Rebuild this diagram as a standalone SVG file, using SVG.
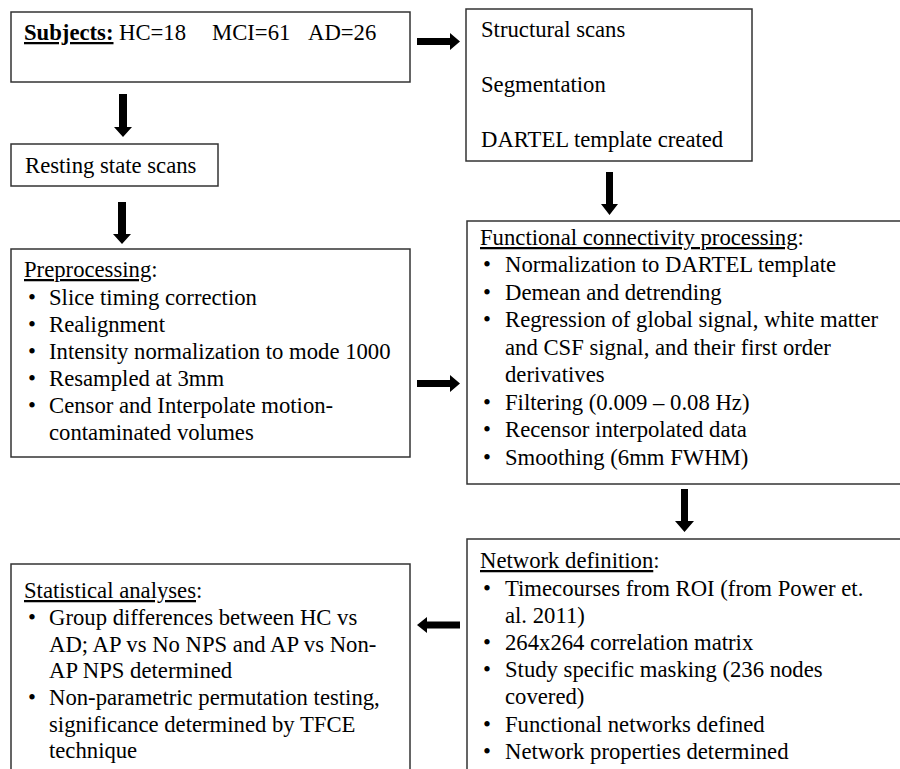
<svg xmlns="http://www.w3.org/2000/svg" width="900" height="769" viewBox="0 0 900 769" font-family="'Liberation Serif', 'Times New Roman', Times, serif">
<style>
.box{fill:#fff;stroke:#333;stroke-width:1.5}
text{font-family:'Liberation Serif','Times New Roman',Times,serif;font-size:22.7px;fill:#000}
.u{text-decoration:underline}
.arr{fill:#000}
</style>
<rect width="900" height="769" fill="#fff"/>
<g id="subjects">
<rect class="box" x="11" y="12" width="399" height="70"/>
<text y="40"><tspan x="24" class="u" font-weight="bold">Subjects:</tspan><tspan x="119">HC=18</tspan><tspan x="212">MCI=61</tspan><tspan x="308">AD=26</tspan></text>
</g>
<g id="structural">
<rect class="box" x="466" y="9" width="286" height="152"/>
<text x="481" y="37">Structural scans</text>
<text x="481" y="92">Segmentation</text>
<text x="481" y="147">DARTEL template created</text>
</g>
<g id="resting">
<rect class="box" x="11" y="144" width="207" height="42"/>
<text x="25" y="173">Resting state scans</text>
</g>
<g id="preprocessing">
<rect class="box" x="11" y="249" width="399" height="208"/>
<text x="24" y="277"><tspan class="u">Preprocessing</tspan>:</text>
<text x="28" y="305">•</text><text x="49" y="305">Slice timing correction</text>
<text x="28" y="332">•</text><text x="49" y="332">Realignment</text>
<text x="28" y="359">•</text><text x="49" y="359">Intensity normalization to mode 1000</text>
<text x="28" y="386">•</text><text x="49" y="386">Resampled at 3mm</text>
<text x="28" y="413">•</text><text x="49" y="413">Censor and Interpolate motion-</text>
<text x="49" y="440">contaminated volumes</text>
</g>
<g id="functional">
<rect class="box" x="467" y="221" width="445" height="263"/>
<text x="480" y="245"><tspan class="u">Functional connectivity processing</tspan>:</text>
<text x="483" y="272">•</text><text x="505" y="272">Normalization to DARTEL template</text>
<text x="483" y="300">•</text><text x="505" y="300">Demean and detrending</text>
<text x="483" y="327">•</text><text x="505" y="327">Regression of global signal, white matter</text>
<text x="505" y="355">and CSF signal, and their first order</text>
<text x="505" y="382">derivatives</text>
<text x="483" y="410">•</text><text x="505" y="410">Filtering (0.009 – 0.08 Hz)</text>
<text x="483" y="437">•</text><text x="505" y="437">Recensor interpolated data</text>
<text x="483" y="465">•</text><text x="505" y="465">Smoothing (6mm FWHM)</text>
</g>
<g id="network">
<rect class="box" x="467" y="539" width="445" height="240"/>
<text x="480" y="568"><tspan class="u">Network definition</tspan>:</text>
<text x="483" y="596">•</text><text x="505" y="596">Timecourses from ROI (from Power et.</text>
<text x="505" y="623">al. 2011)</text>
<text x="483" y="650">•</text><text x="505" y="650">264x264 correlation matrix</text>
<text x="483" y="677">•</text><text x="505" y="677">Study specific masking (236 nodes</text>
<text x="505" y="704">covered)</text>
<text x="483" y="732">•</text><text x="505" y="732">Functional networks defined</text>
<text x="483" y="759">•</text><text x="505" y="759">Network properties determined</text>
</g>
<g id="statistical">
<rect class="box" x="11" y="564" width="399" height="215"/>
<text x="24" y="598"><tspan class="u">Statistical analyses</tspan>:</text>
<text x="28" y="625">•</text><text x="49" y="625">Group differences between HC vs</text>
<text x="49" y="652">AD; AP vs No NPS and AP vs Non-</text>
<text x="49" y="678">AP NPS determined</text>
<text x="28" y="705">•</text><text x="49" y="705">Non-parametric permutation testing,</text>
<text x="49" y="732">significance determined by TFCE</text>
<text x="49" y="758">technique</text>
</g>
<g id="connectors">
<polygon class="arr" points="119,94 127,94 127,127 132,127 123,137 114,127 119,127"/>
<polygon class="arr" points="118,202 126,202 126,234 131,234 122,244 113,234 118,234"/>
<polygon class="arr" points="417,38 450,38 450,33 460,41.5 450,50 450,45 417,45"/>
<polygon class="arr" points="606,172 613,172 613,204 618,204 609.5,215 601,204 606,204"/>
<polygon class="arr" points="417,380 450,380 450,375 460,383.5 450,392 450,387 417,387"/>
<polygon class="arr" points="681,489 688,489 688,521 694,521 684.5,532 675,521 681,521"/>
<polygon class="arr" points="460,621.5 427,621.5 427,617 417,625 427,633 427,628.5 460,628.5"/>
</g>
</svg>
